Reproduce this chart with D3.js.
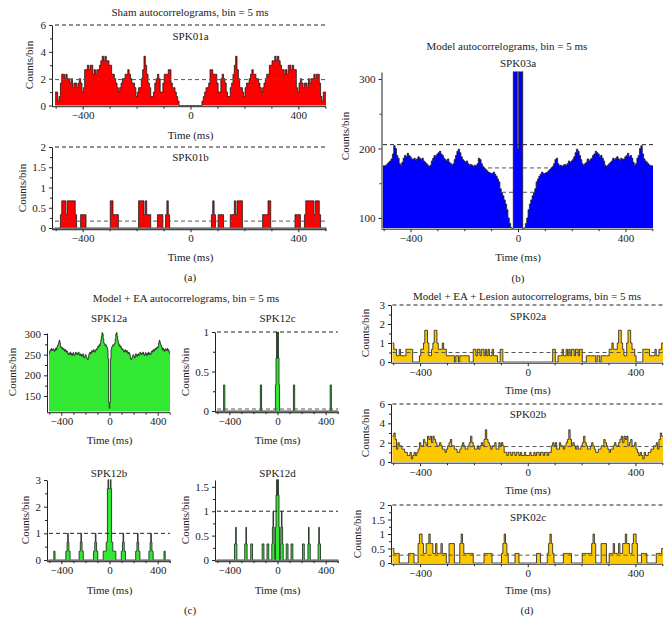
<!DOCTYPE html>
<html><head><meta charset="utf-8">
<script src="https://cdn.jsdelivr.net/npm/d3@7"></script>
<style>
body{margin:0;background:#fff;}
svg text{font-family:"Liberation Serif","DejaVu Serif",serif;fill:#222;}
</style></head><body>
<svg id="chart" width="670" height="632"></svg>
<script>
// ---------- data (bins of 5 ms, centred at -500 ... 500) ----------
const binTimes = d3.range(-500, 501, 5);
const xTickLabels = [-400, 0, 400];
const xMinorTicks = [-500, -300, -200, -100, 100, 200, 300, 500];

const spk01a = [1,1,0.33,0.67,1.67,2.33,2.33,2,2.33,2,
2,1.67,2,1.33,1.67,1.67,1.33,1.67,2,1.67,
1,1.33,2.67,2.67,3,2.67,3,3,2.33,2.67,
2.33,2.67,2.67,3,3.33,3.67,3.33,3.67,3.33,3.33,
3,3,2.33,2.33,2,1.67,1.33,1,1.33,1.67,
2,2,2.33,2.33,2.67,2.33,2,1.67,1.67,1.33,
0.67,1,1.33,1.33,2,2.67,3.67,3,2.33,1.67,
1.33,0.67,0.67,1,1.67,2,2.33,2,1,1,
1.67,2.33,2.33,2.33,2.67,2.67,1.67,1.33,1.33,1,
0.67,0.33,0,0,0,0,0,0,0,0,
0,
0,0,0,0,0,0,0,0,0.33,0.67,
1,1.33,1.33,1.67,2.67,2.67,2.33,2.33,2.33,1.67,
1,1,2,2.33,2,1.67,1,0.67,0.67,1.33,
1.67,2.33,3,3.67,2.67,2,1.33,1.33,1,0.67,
1.33,1.67,1.67,2,2.33,2.67,2.33,2.33,2,2,
1.67,1.33,1,1.33,1.67,2,2.33,2.33,3,3,
3.33,3.33,3.67,3.33,3.67,3.33,3,2.67,2.67,2.33,
2.67,2.33,3,3,2.67,3,2.67,2.67,1.33,1,
1.67,2,1.67,1.33,1.67,1.67,1.33,2,1.67,2,
2,2.33,2,2.33,2.33,1.67,0.67,0.33,1,1];

const spk01bPairs = [[-480,0.33],[-475,0.67],[-470,0.67],[-465,0.67],[-460,0.33],[-455,0.67],[-450,0.67],[-445,0.67],[-440,0.67],[-435,0.67],[-430,0.67],[-425,0.33],
[-405,0.33],[-400,0.33],[-395,0.33],[-390,0.33],
[-295,0.67],[-290,0.67],[-285,0.33],[-280,0.33],[-275,0.33],[-270,0.33],
[-190,0.67],[-185,0.67],[-180,0.67],[-175,0.67],[-170,0.33],[-165,0.67],[-160,0.33],[-155,0.33],[-150,0.33],
[-120,0.33],[-115,0.33],[-110,0.33],[-105,0.33],
[-90,0.33],[-85,0.67],[-80,0.33],
[80,0.33],[85,0.67],[90,0.33],
[105,0.33],[110,0.33],[115,0.33],[120,0.33],
[150,0.33],[155,0.33],[160,0.33],[165,0.67],[170,0.33],[175,0.67],[180,0.67],[185,0.67],[190,0.67],
[270,0.33],[275,0.33],[280,0.33],[285,0.33],[290,0.67],[295,0.67],
[390,0.33],[395,0.33],[400,0.33],[405,0.33],
[425,0.33],[430,0.67],[435,0.67],[440,0.67],[445,0.67],[450,0.67],[455,0.67],[460,0.33],[465,0.67],[470,0.67],[475,0.67],[480,0.33]];

const spk03a = [175,175,176,178,180,182,185,192,204,200,
190,186,178,176,180,186,190,188,193,190,
188,185,184,186,183,185,188,186,184,186,
182,180,178,176,174,176,182,186,190,188,
192,194,196,192,190,186,184,182,185,180,
178,176,178,184,190,196,199,194,188,184,
182,180,182,178,176,177,176,174,176,175,
178,186,184,178,174,172,170,168,166,165,
164,164,166,163,160,156,152,142,136,132,
126,120,112,100,92,86,80,400,400,380,
200,
380,400,400,80,86,92,100,112,120,126,
132,136,142,152,156,160,163,166,164,164,
165,166,168,170,172,174,178,184,186,178,
175,176,174,176,177,176,178,182,180,182,
184,188,194,199,196,190,184,178,176,178,
180,185,182,184,186,190,192,196,194,192,
188,190,186,182,176,174,176,178,180,182,
186,184,186,188,185,183,186,184,185,188,
190,193,188,190,186,180,176,178,186,190,
200,204,192,185,182,180,178,176,175,175];

const spk12a = [253,258,262,260,265,262,260,264,262,258,
262,266,262,268,272,275,280,285,278,270,
266,268,264,262,265,262,258,262,260,256,
258,252,250,254,252,256,250,253,248,252,
255,250,248,252,256,252,254,250,253,256,
250,248,252,250,246,248,252,246,242,245,
250,248,244,240,238,242,250,254,256,252,
256,260,256,258,262,258,256,260,264,262,
266,270,268,274,272,278,285,295,305,300,
288,278,276,272,274,270,268,262,240,135,
120,
135,240,262,268,270,274,272,276,278,288,
300,305,295,285,278,272,274,268,270,266,
262,264,260,256,258,262,258,256,260,256,
252,256,254,250,242,238,240,244,248,250,
245,242,246,252,248,246,250,252,248,250,
256,253,250,254,252,256,252,248,250,255,
252,248,253,250,256,252,254,250,252,258,
256,260,262,258,262,265,262,264,268,266,
270,278,285,280,275,272,268,262,266,262,
258,262,264,260,262,265,260,262,258,253];

const spk12cPairs = [[-445,0.33],[-440,0.33],[-140,0.33],[-135,0.33],
[-15,0.33],[-10,0.67],[-5,1],[0,0.67],[5,1],[10,0.67],[15,0.33],
[135,0.33],[140,0.33],[440,0.33],[445,0.33]];

const spk12bPairs = [[-460,0.33],[-455,0.33],
[-360,0.33],[-355,0.33],[-350,0.67],[-345,1],[-340,0.67],[-335,0.33],[-330,0.33],
[-250,0.33],[-245,0.33],[-240,0.67],[-235,1],[-230,0.67],[-225,0.33],[-220,0.33],
[-130,0.33],[-125,0.33],[-120,0.67],[-115,1],[-110,0.67],[-105,0.33],[-100,0.33],
[-50,0.33],[-45,0.33],[-40,0.33],[-35,0.33],[-30,0.33],[-25,0.67],[-20,0.67],[-15,2.67],[-10,3.67],[-5,2.67],[0,2.67],[5,2.67],[10,3.67],[15,2.67],[20,0.67],[25,0.67],[30,0.33],[35,0.33],[40,0.33],[45,0.33],[50,0.33],
[100,0.33],[105,0.33],[110,0.67],[115,1],[120,0.67],[125,0.33],[130,0.33],
[220,0.33],[225,0.33],[230,0.67],[235,1],[240,0.67],[245,0.33],[250,0.33],
[330,0.33],[335,0.33],[340,0.67],[345,1],[350,0.67],[355,0.33],[360,0.33],
[455,0.33],[460,0.33]];

const spk12dPairs = [[-355,0.33],[-350,0.33],[-345,0.67],[-340,0.33],
[-270,0.33],[-265,0.33],[-260,0.67],[-255,0.33],
[-220,0.33],[-215,0.33],[-210,0.33],[-125,0.33],[-120,0.33],[-115,0.33],[-85,0.33],[-80,0.33],[-75,0.33],
[-45,0.33],[-40,0.67],[-35,1],[-30,0.67],[-25,0.33],
[-15,0.67],[-10,1.33],[-5,1.67],[0,1.33],[5,1.67],[10,1.33],[15,0.67],
[25,0.33],[30,0.67],[35,1],[40,0.67],[45,0.33],
[75,0.33],[80,0.33],[85,0.33],[115,0.33],[120,0.33],[125,0.33],[210,0.33],[215,0.33],[220,0.33],
[255,0.33],[260,0.67],[265,0.33],[270,0.33],[340,0.33],[345,0.67],[350,0.33],[355,0.33]];

const spk02aPairs = [[-500,1],[-495,0.67],[-490,0.67],[-485,0.33],[-480,0.33],[-475,0.67],[-470,0.33],[-465,0.33],[-460,0.33],[-455,0.33],[-450,0.67],[-445,0.67],[-440,0.67],[-435,0.67],[-430,0.67],
[-400,0.33],[-395,0.67],[-390,0.67],[-385,1],[-380,1.67],[-375,1.67],[-370,1],[-365,0.33],[-360,0.33],[-355,0.67],[-350,1],[-345,1.67],[-340,1.67],[-335,1],[-330,0.67],[-325,0.67],[-320,0.67],[-315,1],[-310,0.67],[-305,0.67],
[-300,0.33],[-295,0.33],[-290,0.33],[-285,0.33],[-280,0.33],[-275,0.33],[-265,0.33],[-260,0.33],[-250,0.33],[-245,0.33],[-240,0.33],[-235,0.33],[-230,0.33],[-225,0.33],[-220,0.33],
[-200,0.67],[-195,0.67],[-190,0.33],[-185,0.67],[-180,0.67],[-175,0.33],[-170,0.67],[-165,0.67],[-160,0.33],[-155,0.67],[-150,0.33],[-145,0.67],[-140,0.33],[-135,0.33],[-130,0.67],[-125,0.33],[-120,0.33],[-115,0.33],[-100,0.67],[-95,0.67],
[95,0.67],[100,0.67],[115,0.33],[120,0.33],[125,0.33],[130,0.67],[135,0.33],[140,0.33],[145,0.67],[150,0.33],[155,0.67],[160,0.33],[165,0.67],[170,0.67],[175,0.33],[180,0.67],[185,0.67],[190,0.33],[195,0.67],[200,0.67],
[220,0.33],[225,0.33],[230,0.33],[235,0.33],[240,0.33],[245,0.33],[250,0.33],[260,0.33],[265,0.33],[275,0.33],[280,0.33],[285,0.33],[290,0.33],[295,0.33],[300,0.33],
[305,0.67],[310,0.67],[315,1],[320,0.67],[325,0.67],[330,0.67],[335,1],[340,1.67],[345,1.67],[350,1],[355,0.67],[360,0.33],[365,0.33],[370,1],[375,1.67],[380,1.67],[385,1],[390,0.67],[395,0.67],[400,0.33],
[430,0.67],[435,0.67],[440,0.67],[445,0.67],[450,0.67],[455,0.33],[460,0.33],[465,0.33],[470,0.33],[475,0.67],[480,0.33],[485,0.33],[490,0.67],[495,0.67],[500,1]];

const spk02b = [2.67,3,2.33,1.33,2,1.67,1.67,1.33,1.33,1,
1,0.67,0.67,1,0.33,0.67,1,0.67,1,1.33,
2,1.67,1.67,2.33,2,1.67,2.67,2.33,2.67,2,
2.67,2.33,2,1.67,1.67,2,1.67,1.33,1.33,1,
1.33,1.67,2,2.33,1.67,1.67,1.33,1.33,1,1,
1.33,1.67,2,1.67,1.33,1.33,1.67,2,2.67,2,
1.67,1.33,1.33,1.67,1.33,1.67,2,1.67,2.33,3.33,
2.33,2,1.67,1.33,1.67,1.67,2,1.33,1.33,2,
1.67,2,1.67,1,1,0.67,1,1,0.67,1,
1,0.67,1,1,0.67,1,0.67,0.67,1,0.67,
0.67,
0.67,1,0.67,0.67,1,0.67,1,1,0.67,1,
1,0.67,1,1,0.67,1,1,1.67,2,1.67,
2,1.33,1.33,2,1.67,1.67,1.33,1.67,2,2.33,
3.33,2.33,1.67,2,1.67,1.33,1.67,1.33,1.33,1.67,
2,2.67,2,1.67,1.33,1.33,1.67,2,1.67,1.33,
1,1,1.33,1.33,1.67,1.67,2.33,2,1.67,1.33,
1,1.33,1.33,1.67,2,1.67,1.67,2,2.33,2.67,
2,2.67,2.33,2.67,1.67,2,2.33,1.67,1.67,2,
1.33,1,0.67,1,0.67,0.33,1,0.67,0.67,1,
1,1.33,1.33,1.67,1.67,2,1.33,2.33,3,2.67];

const spk02cPairs = [[-500,0.5],[-495,0.33],[-490,0.33],[-485,0.33],[-480,0.33],
[-440,0.33],[-435,0.33],[-430,0.33],[-425,0.33],
[-405,0.67],[-400,1],[-395,1],[-390,0.67],
[-385,0.33],[-380,0.33],[-375,0.67],[-370,0.67],[-365,1],[-360,0.67],[-355,0.67],
[-350,0.33],[-345,0.33],[-340,0.67],[-335,0.33],[-330,0.33],[-325,0.33],[-320,0.67],[-315,0.33],[-310,0.33],[-305,0.33],
[-290,0.67],[-285,0.67],[-280,0.67],[-275,0.67],
[-250,0.67],[-245,1],[-240,0.67],[-235,0.33],[-230,0.33],[-225,0.33],[-220,0.33],[-215,0.33],[-210,0.33],[-205,0.33],
[-160,0.33],[-155,0.33],[-150,0.33],[-145,0.33],[-140,0.33],[-135,0.33],
[-95,0.33],[-90,0.67],[-85,1],[-80,0.67],[-75,0.33],
[-45,0.33],[-40,0.33],[-35,0.33],
[35,0.33],[40,0.33],[45,0.33],
[75,0.33],[80,0.67],[85,1],[90,0.67],[95,0.33],
[135,0.33],[140,0.33],[145,0.33],[150,0.33],[155,0.33],[160,0.33],
[205,0.33],[210,0.33],[215,0.33],[220,0.33],[225,0.33],[230,0.33],[235,0.33],[240,0.67],[245,1],[250,0.67],
[275,0.67],[280,0.67],[285,0.67],[290,0.67],
[305,0.33],[310,0.33],[315,0.33],[320,0.67],[325,0.33],[330,0.33],[335,0.33],[340,0.67],[345,0.33],[350,0.33],
[355,0.67],[360,0.67],[365,1],[370,0.67],[375,0.67],[380,0.33],[385,0.33],
[390,0.67],[395,1],[400,1],[405,0.67],
[425,0.33],[430,0.33],[435,0.33],[440,0.33],
[480,0.33],[485,0.33],[490,0.33],[495,0.33],[500,0.5]];

function expand(pairs){ const m = new Map(pairs); return binTimes.map(t => m.has(t) ? m.get(t) : 0); }

// ---------- drawing ----------
const svg = d3.select("#chart");
const defs = svg.append("defs");
const RED="#ff0000", BLUE="#0000ff", GREEN="#33e833", YELLOW="#fcc800";

const panels = [
 {id:"a1", label:"SPK01a", values:spk01a, fill:RED, x0:55, x1:326, yAx:52, yTop:25, yBot:105.5, dom:[0,6], ticks:[0,2,4,6], minor:[1,3,5], dashed:[6,1.93], onTop:true, lab:[190.5,36], timeY:135, ylab:[29,65]},
 {id:"a2", label:"SPK01b", values:expand(spk01bPairs), fill:RED, x0:55, x1:326, yAx:52, yTop:147, yBot:228, dom:[0,2], ticks:[0,0.5,1,1.5,2], minor:[0.25,0.75,1.25,1.75], dashed:[2,0.17], onTop:true, lab:[190.5,157], timeY:257, ylab:[22,188], band:true},
 {id:"b", label:"SPK03a", values:spk03a, fill:BLUE, x0:383, x1:653, yAx:381.5, yTop:72, yBot:228, dom:[85.6,310], ticks:[100,200,300], minor:[150,250], dashed:[205.5,172,137], onTop:false, lab:[518,63], timeY:257, ylab:[345,136]},
 {id:"c1", label:"SPK12a", values:spk12a, fill:GREEN, x0:49, x1:170, yAx:47, yTop:333, yBot:411.5, dom:[112.5,302.4], ticks:[150,200,250,300], minor:[175,225,275], dashed:[], onTop:true, lab:[109,318], timeY:440, ylab:[12,372]},
 {id:"c2", label:"SPK12c", values:expand(spk12cPairs), fill:GREEN, x0:217, x1:338, yAx:215, yTop:332, yBot:411, dom:[0,1], ticks:[0,0.5,1], minor:[0.25,0.75], dashed:[1,0.025], onTop:true, lab:[277.5,318], timeY:440, ylab:[185,372], band:true},
 {id:"c3", label:"SPK12b", values:expand(spk12bPairs), fill:GREEN, x0:49, x1:170, yAx:47, yTop:480, yBot:560, dom:[0,3], ticks:[0,1,2,3], minor:[0.5,1.5,2.5], dashed:[1], onTop:true, lab:[109,473], timeY:590, ylab:[25,520], band:true},
 {id:"c4", label:"SPK12d", values:expand(spk12dPairs), fill:GREEN, x0:217, x1:338, yAx:215, yTop:480, yBot:560, dom:[0,1.64], ticks:[0,0.5,1,1.5], minor:[0.25,0.75,1.25], dashed:[1], onTop:true, lab:[277.5,473], timeY:590, ylab:[185,520], band:true},
 {id:"d1", label:"SPK02a", values:expand(spk02aPairs), fill:YELLOW, x0:392.5, x1:663, yAx:391, yTop:305, yBot:362, dom:[0,3], ticks:[0,1,2,3], minor:[0.5,1.5,2.5], dashed:[3,0.5], onTop:true, lab:[528,316], timeY:390, ylab:[365,333]},
 {id:"d2", label:"SPK02b", values:spk02b, fill:YELLOW, x0:392.5, x1:663, yAx:391, yTop:404, yBot:462, dom:[0,6], ticks:[0,2,4,6], minor:[1,3,5], dashed:[6,1.6], onTop:true, lab:[528,414], timeY:490, ylab:[365,433]},
 {id:"d3", label:"SPK02c", values:expand(spk02cPairs), fill:YELLOW, x0:392.5, x1:663, yAx:391, yTop:505, yBot:563, dom:[0,2], ticks:[0,0.5,1,1.5,2], minor:[0.25,0.75,1.25,1.75], dashed:[2,0.27], onTop:true, lab:[528,517], timeY:590, ylab:[357,534]}
];

function styleAxis(sel){
  sel.selectAll("text").attr("font-size",11);
  sel.selectAll("line,path").attr("stroke","#222");
}

function drawPanel(p){
  const x = d3.scaleLinear().domain([-502.5,502.5]).range([p.x0,p.x1]);
  const y = d3.scaleLinear().domain(p.dom).range([p.yBot,p.yTop]);
  const g = svg.append("g");
  const cid = "clip-"+p.id;
  defs.append("clipPath").attr("id",cid).append("rect")
    .attr("x",p.x0-1).attr("y",p.yTop-0.5).attr("width",p.x1-p.x0+2).attr("height",p.yBot-p.yTop+1);
  const pts = p.values.map((v,i)=>[binTimes[i]-2.5, v]);
  pts.push([binTimes[binTimes.length-1]+2.5, p.values[p.values.length-1]]);
  const area = d3.area().curve(d3.curveStepAfter).x(d=>x(d[0])).y0(p.yBot).y1(d=>y(d[1]));
  const line = d3.line().curve(d3.curveStepAfter).x(d=>x(d[0])).y(d=>y(d[1]));
  const drawDashes = () => g.append("g").selectAll("line").data(p.dashed).join("line")
    .attr("x1",p.x0).attr("x2",p.x1).attr("y1",d=>y(d)).attr("y2",d=>y(d))
    .attr("stroke",(d,i)=> i===0 ? "#222" : "#555").attr("stroke-width",1)
    .attr("stroke-dasharray","4,3");
  if(!p.onTop) drawDashes();
  const pg = g.append("g").attr("clip-path",`url(#${cid})`);
  pg.append("path").attr("d",area(pts)).attr("fill",p.fill);
  pg.append("path").attr("d",line(pts)).attr("fill","none").attr("stroke","#1a1a1a").attr("stroke-width",0.8);
  if(p.onTop) drawDashes();
  if(p.band){
    g.append("rect").attr("x",p.yAx).attr("y",p.yBot-0.3).attr("width",p.x1-p.yAx+1).attr("height",2.8).attr("fill","#9a9a9a");
  }
  // y axis
  const ya = g.append("g").attr("transform",`translate(${p.yAx},0)`)
    .call(d3.axisLeft(y).tickValues(p.ticks).tickFormat(d3.format("")).tickSize(3).tickPadding(3).tickSizeOuter(0));
  styleAxis(ya);
  const ym = g.append("g").attr("transform",`translate(${p.yAx},0)`)
    .call(d3.axisLeft(y).tickValues(p.minor).tickFormat("").tickSize(2));
  ym.select(".domain").remove(); styleAxis(ym);
  // x axis
  const xaY = p.yBot + 1.2;
  const xa = g.append("g").attr("transform",`translate(0,${xaY})`)
    .call(d3.axisBottom(x).tickValues(xTickLabels).tickFormat(d3.format("")).tickSize(3).tickPadding(2));
  xa.select(".domain").remove(); styleAxis(xa);
  const xm = g.append("g").attr("transform",`translate(0,${xaY})`)
    .call(d3.axisBottom(x).tickValues(xMinorTicks).tickFormat("").tickSize(2));
  xm.select(".domain").remove(); styleAxis(xm);
  g.append("line").attr("x1",p.yAx).attr("x2",p.x1).attr("y1",xaY).attr("y2",xaY).attr("stroke","#222");
  // texts
  g.append("text").attr("x",p.lab[0]).attr("y",p.lab[1]).attr("dy","0.35em").attr("text-anchor","middle").attr("font-size",11).text(p.label);
  g.append("text").attr("x",(p.x0+p.x1)/2).attr("y",p.timeY).attr("dy","0.35em").attr("text-anchor","middle").attr("font-size",11).text("Time (ms)");
  g.append("text").attr("transform",`translate(${p.ylab[0]},${p.ylab[1]}) rotate(-90)`).attr("dy","0.35em").attr("text-anchor","middle").attr("font-size",11).text("Counts/bin");
}
panels.forEach(drawPanel);

const titles = [
  {t:"Sham autocorrelograms, bin = 5 ms", x:190, y:12},
  {t:"Model autocorrelograms, bin = 5 ms", x:507, y:46},
  {t:"Model + EA autocorrelograms, bin = 5 ms", x:186, y:298},
  {t:"Model + EA + Lesion autocorrelograms, bin = 5 ms", x:527, y:296},
  {t:"(a)", x:190, y:277}, {t:"(b)", x:518, y:278}, {t:"(c)", x:190, y:610}, {t:"(d)", x:527, y:610}
];
svg.append("g").selectAll("text").data(titles).join("text")
  .attr("x",d=>d.x).attr("y",d=>d.y).attr("dy","0.35em").attr("text-anchor","middle").attr("font-size",11).text(d=>d.t);
</script></body></html>
